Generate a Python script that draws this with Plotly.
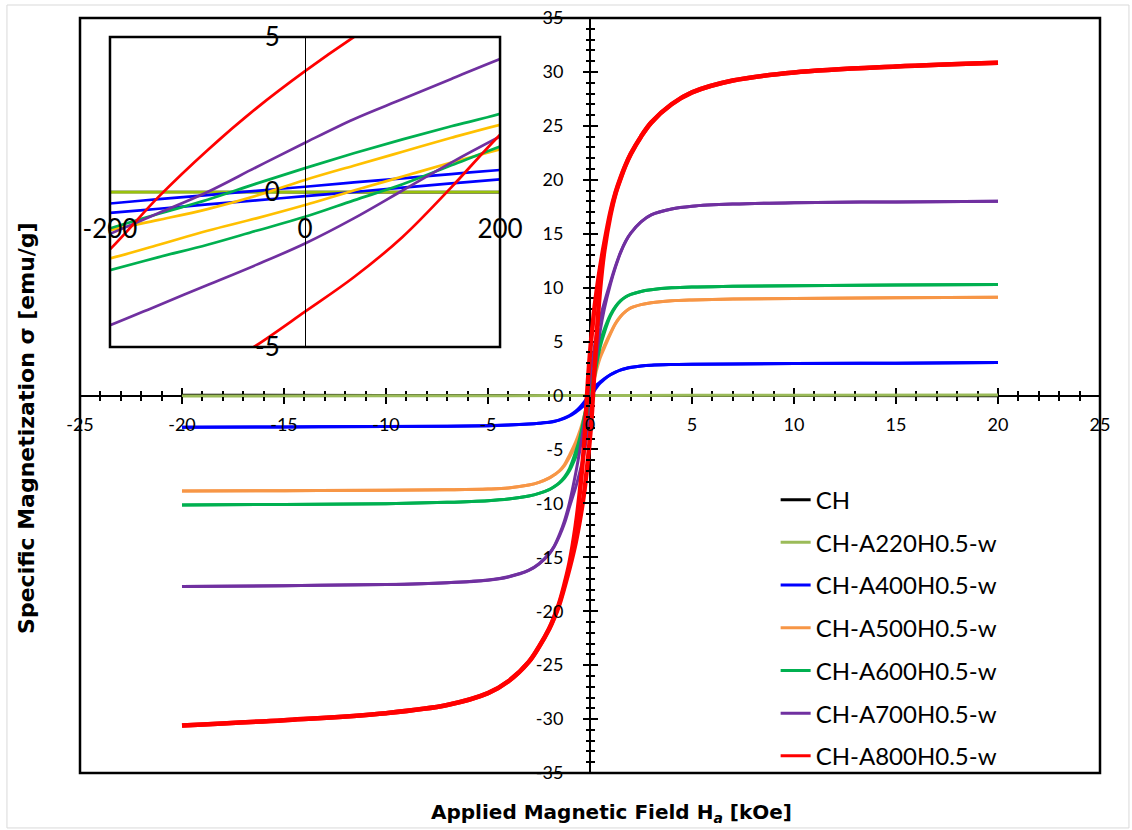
import plotly.graph_objects as go

# ---------------- data ----------------
# Field grid in kOe for the descending (upper) and ascending (lower) branches
H_DESC = [20, 15, 10, 7, 5, 4, 3, 2.5, 2, 1.75, 1.5, 1.25, 1,
          0.7, 0.5, 0.3, 0.2, 0.15, 0.1, 0.05, 0, -0.05, -0.1, -0.15, -0.2, -0.3, -0.5, -0.7,
          -1, -1.25, -1.5, -1.75, -2, -2.5, -3, -4, -5, -7, -10, -15, -20]
H_ASC = [-20, -15, -10, -7, -5, -4, -3, -2.5, -2, -1.75, -1.5, -1.25, -1,
         -0.7, -0.5, -0.3, -0.2, -0.15, -0.1, -0.05, 0, 0.05, 0.1, 0.15, 0.2, 0.3, 0.5, 0.7,
         1, 1.25, 1.5, 1.75, 2, 2.5, 3, 4, 5, 7, 10, 15, 20]
H_FLAT = [20, 10, 5, 0, -5, -10, -20]

SERIES = ["CH", "CH-A220H0.5-w", "CH-A400H0.5-w", "CH-A500H0.5-w",
          "CH-A600H0.5-w", "CH-A700H0.5-w", "CH-A800H0.5-w"]

M_CH = [-0.02, -0.01, -0.005, 0.0, 0.005, 0.01, 0.02]
M_A220 = [0.04, 0.03, 0.02, 0.0, -0.02, -0.03, -0.04]

M_A400_DESC = [3.05, 3.0, 2.97, 2.93, 2.9, 2.87, 2.81, 2.74, 2.61, 2.51, 2.37, 2.17, 1.93,
               1.55, 1.25, 0.95, 0.71, 0.58, 0.44, 0.31, 0.17, 0.04, -0.1, -0.23, -0.37, -0.65, -1.1, -1.45,
               -1.85, -2.08, -2.26, -2.39, -2.48, -2.57, -2.64, -2.74, -2.8, -2.85, -2.88, -2.92, -2.95]
M_A400_ASC = [-2.95, -2.92, -2.88, -2.85, -2.8, -2.74, -2.65, -2.58, -2.49, -2.41, -2.28, -2.12, -1.9,
              -1.55, -1.25, -0.92, -0.67, -0.54, -0.4, -0.27, -0.13, 0.0, 0.14, 0.28, 0.41, 0.68, 1.15, 1.5,
              1.92, 2.16, 2.36, 2.5, 2.6, 2.73, 2.81, 2.87, 2.9, 2.93, 2.97, 3.0, 3.05]

M_A500_DESC = [9.12, 9.06, 9.0, 8.94, 8.86, 8.78, 8.6, 8.43, 8.12, 7.8, 7.35, 6.7, 5.8,
               4.6, 3.7, 2.9, 2.17, 1.75, 1.3, 0.85, 0.39, -0.12, -0.55, -0.9, -1.23, -2.0, -3.3, -4.3,
               -5.5, -6.4, -6.98, -7.34, -7.64, -8.05, -8.3, -8.57, -8.67, -8.74, -8.79, -8.82, -8.85]
M_A500_ASC = [-8.85, -8.82, -8.79, -8.74, -8.67, -8.57, -8.3, -8.05, -7.66, -7.36, -7.02, -6.5, -5.7,
              -4.65, -3.85, -2.85, -2.14, -1.7, -1.25, -0.85, -0.42, 0.05, 0.5, 0.95, 1.38, 2.2, 3.5, 4.4,
              5.7, 6.65, 7.33, 7.8, 8.12, 8.43, 8.6, 8.78, 8.86, 8.94, 9.0, 9.06, 9.12]

M_A600_DESC = [10.3, 10.24, 10.18, 10.12, 10.06, 9.98, 9.8, 9.65, 9.38, 9.15, 8.8, 8.27, 7.5,
               6.15, 5.0, 3.5, 2.52, 2.12, 1.7, 1.25, 0.77, 0.27, -0.25, -0.7, -1.17, -2.1, -3.9, -5.2,
               -6.75, -7.55, -8.08, -8.44, -8.72, -9.08, -9.32, -9.6, -9.75, -9.9, -10.03, -10.1, -10.15]
M_A600_ASC = [-10.15, -10.1, -10.03, -9.9, -9.75, -9.6, -9.32, -9.08, -8.73, -8.46, -8.12, -7.65, -6.95,
              -5.7, -4.7, -3.35, -2.52, -2.1, -1.7, -1.25, -0.8, -0.27, 0.25, 0.86, 1.47, 2.6, 4.5, 5.8,
              7.35, 8.2, 8.78, 9.14, 9.37, 9.65, 9.8, 9.98, 10.06, 10.12, 10.18, 10.24, 10.3]

M_A700_DESC = [18.0, 17.95, 17.88, 17.75, 17.55, 17.3, 16.75, 16.1, 15.05, 14.3, 13.3, 12.0, 10.5,
               8.6, 7.2, 5.5, 4.29, 3.65, 3.0, 2.35, 1.59, 0.8, 0.0, -0.68, -1.35, -2.7, -5.1, -7.2,
               -9.9, -11.6, -12.9, -13.95, -14.65, -15.6, -16.2, -16.8, -17.1, -17.35, -17.52, -17.63, -17.72]
M_A700_ASC = [-17.72, -17.63, -17.52, -17.35, -17.12, -16.82, -16.22, -15.63, -14.7, -14.0, -13.05, -11.85, -10.3,
              -8.5, -7.1, -5.5, -4.3, -3.65, -3.0, -2.35, -1.66, -0.85, 0.05, 0.95, 1.79, 3.4, 6.0, 8.0,
              10.3, 11.9, 13.25, 14.3, 15.05, 16.1, 16.75, 17.3, 17.55, 17.75, 17.88, 17.95, 18.0]

M_A800_DESC = [30.85, 30.5, 29.95, 29.2, 28.1, 27.0, 25.3, 24.0, 22.4, 21.4, 20.2, 18.8, 17.0,
               14.1, 11.9, 9.3, 7.8, 6.9, 6.0, 5.0, 3.9, 2.7, 1.35, -0.15, -1.85, -4.85, -9.0, -12.1,
               -15.5, -17.5, -19.2, -20.5, -21.6, -23.3, -24.7, -26.5, -27.6, -28.7, -29.45, -30.1, -30.6]
M_A800_ASC = [-30.6, -30.1, -29.45, -28.7, -27.6, -26.5, -24.7, -23.3, -21.65, -20.6, -19.35, -17.75, -16.0,
              -13.6, -11.6, -9.2, -7.6, -6.8, -5.9, -4.95, -3.86, -2.75, -1.45, 0.15, 1.85, 4.85, 10.0, 13.4,
              16.7, 18.7, 20.1, 21.35, 22.4, 24.0, 25.3, 27.0, 28.1, 29.2, 29.95, 30.5, 30.85]

X_TICKS = [-25, -20, -15, -10, -5, 0, 5, 10, 15, 20, 25]
Y_TICKS = [-35, -30, -25, -20, -15, -10, -5, 0, 5, 10, 15, 20, 25, 30, 35]
INSET_X_TICKS = [-200, 0, 200]
INSET_Y_TICKS = [-5, 0, 5]

COLORS_MAIN = ["#000000", "#9BBB59", "#0000FF", "#F79646", "#00B050", "#7030A0", "#FF0000"]
COLORS_INSET = ["#000000", "#99C20A", "#0000FF", "#FFC000", "#00B050", "#7030A0", "#FF0000"]
WIDTHS_MAIN = [3, 3, 3, 3, 3, 3, 4.5]

# ---------------- figure ----------------
branches = [
    [(H_FLAT, M_CH)],
    [(H_FLAT, M_A220)],
    [(H_DESC, M_A400_DESC), (H_ASC, M_A400_ASC)],
    [(H_DESC, M_A500_DESC), (H_ASC, M_A500_ASC)],
    [(H_DESC, M_A600_DESC), (H_ASC, M_A600_ASC)],
    [(H_DESC, M_A700_DESC), (H_ASC, M_A700_ASC)],
    [(H_DESC, M_A800_DESC), (H_ASC, M_A800_ASC)],
]

fig = go.Figure()

# legend entries (uniform line width like the reference legend)
for i, name in enumerate(SERIES):
    fig.add_trace(go.Scatter(x=[None], y=[None], mode="lines", name=name, legendgroup=name,
                             line=dict(color=COLORS_MAIN[i], width=3), xaxis="x", yaxis="y",
                             hoverinfo="skip"))

# main loops
for i, name in enumerate(SERIES):
    for hx, my in branches[i]:
        fig.add_trace(go.Scatter(
            x=hx, y=my, mode="lines", name=name, legendgroup=name, showlegend=False,
            line=dict(color=COLORS_MAIN[i], width=WIDTHS_MAIN[i], shape="spline", smoothing=1),
            xaxis="x", yaxis="y", hoverinfo="skip"))

# inset loops (field in Oe)
for i, name in enumerate(SERIES):
    for hx, my in branches[i]:
        fig.add_trace(go.Scatter(
            x=[h * 1000 for h in hx], y=my, mode="lines", name=name, legendgroup=name,
            showlegend=False,
            line=dict(color=COLORS_INSET[i], width=2.7, shape="spline", smoothing=1),
            xaxis="x2", yaxis="y2", hoverinfo="skip"))

# dummy traces so that the overlay axes (axis lines + inner ticks) are rendered
fig.add_trace(go.Scatter(x=[None], y=[None], xaxis="x3", yaxis="y", showlegend=False, hoverinfo="skip"))
fig.add_trace(go.Scatter(x=[None], y=[None], xaxis="x", yaxis="y3", showlegend=False, hoverinfo="skip"))

tick_common = dict(tickcolor="black", tickwidth=1.5, showgrid=False, zeroline=False, automargin=False)
minor_out = dict(dtick=1, ticks="outside", ticklen=4, tickwidth=1.5, tickcolor="black", showgrid=False)
minor_in = dict(dtick=1, ticks="inside", ticklen=4, tickwidth=1.5, tickcolor="black", showgrid=False)

fig.update_layout(
    width=1132, height=830,
    margin=dict(l=80, r=32, t=18, b=57, autoexpand=False),
    plot_bgcolor="white", paper_bgcolor="white",
    font=dict(family="Lato, 'Open Sans', sans-serif", color="black"),
    # main axes: labels + outer half of the cross ticks, above the curves
    xaxis=dict(domain=[0, 1], range=[-25, 25], anchor="free", position=0.5,
               tickmode="array", tickvals=X_TICKS, ticktext=[str(v) for v in X_TICKS],
               ticks="outside", ticklen=7, minor=minor_out, showline=False,
               tickfont=dict(size=18, color="black"), ticklabelstandoff=6,
               layer="above traces", **tick_common),
    # overlay axes: axis line + inner half of the cross ticks, below the curves
    xaxis3=dict(overlaying="x", matches="x", range=[-25, 25], anchor="free", position=0.5,
                tickmode="array", tickvals=X_TICKS, ticks="inside", ticklen=7, minor=minor_in,
                showline=True, linecolor="black", linewidth=2, showticklabels=False,
                layer="below traces", **tick_common),
    yaxis=dict(domain=[0, 1], range=[-35, 35], anchor="free", position=0.5, side="left",
               tickmode="array", tickvals=Y_TICKS, ticktext=[str(v) for v in Y_TICKS],
               ticks="outside", ticklen=7, minor=minor_out, showline=False,
               tickfont=dict(size=18, color="black"), ticklabelstandoff=16,
               layer="above traces", **tick_common),
    yaxis3=dict(overlaying="y", matches="y", range=[-35, 35], anchor="free", position=0.5, side="left",
                tickmode="array", tickvals=Y_TICKS, ticks="inside", ticklen=7, minor=minor_in,
                showline=True, linecolor="black", linewidth=2, showticklabels=False,
                layer="below traces", **tick_common),
    xaxis2=dict(domain=[0.0294, 0.4118], range=[-200, 200], anchor="free", position=0.7695,
                tickmode="array", tickvals=INSET_X_TICKS, ticktext=[str(v) for v in INSET_X_TICKS],
                ticks="outside", ticklen=14, tickcolor="rgba(0,0,0,0)",
                showline=False, showgrid=False, zeroline=False, automargin=False,
                tickfont=dict(size=26, color="black")),
    yaxis2=dict(domain=[0.5642, 0.9748], range=[-5, 5], anchor="free", position=0.2206, side="left",
                tickmode="array", tickvals=INSET_Y_TICKS, ticktext=[str(v) for v in INSET_Y_TICKS],
                ticks="outside", ticklen=20, tickcolor="rgba(0,0,0,0)",
                showline=True, linecolor="black", linewidth=1, showgrid=False, zeroline=False,
                automargin=False, tickfont=dict(size=26, color="black")),
    legend=dict(x=0.682, y=0.3913, xanchor="left", yanchor="top", bgcolor="rgba(255,255,255,0)",
                font=dict(size=24, color="black"), tracegroupgap=8.5, traceorder="grouped"),
    shapes=[
        dict(type="rect", xref="paper", yref="paper", x0=-0.0716, x1=1.0284, y0=-0.0728, y1=1.0172,
             line=dict(color="#D9D9D9", width=1), layer="below"),
        dict(type="rect", xref="paper", yref="paper", x0=0, x1=1, y0=0, y1=1,
             line=dict(color="black", width=2.5)),
        dict(type="rect", xref="paper", yref="paper", x0=0.0294, x1=0.4118, y0=0.5642, y1=0.9748,
             line=dict(color="black", width=2.5)),
    ],
    annotations=[
        dict(text="<b>Applied Magnetic Field H<sub><i>a</i></sub> [kOe]</b>", xref="paper", yref="paper",
             x=0.5206, y=-0.053, xanchor="center", yanchor="middle", showarrow=False,
             font=dict(family="'DejaVu Sans', sans-serif", size=20, color="black")),
        dict(text="<b>Specific Magnetization σ [emu/g]</b>", xref="paper", yref="paper",
             x=-0.052, y=0.457, xanchor="center", yanchor="middle", textangle=-90, showarrow=False,
             font=dict(family="'DejaVu Sans', sans-serif", size=22, color="black")),
    ],
)

fig.write_html("out.html")
